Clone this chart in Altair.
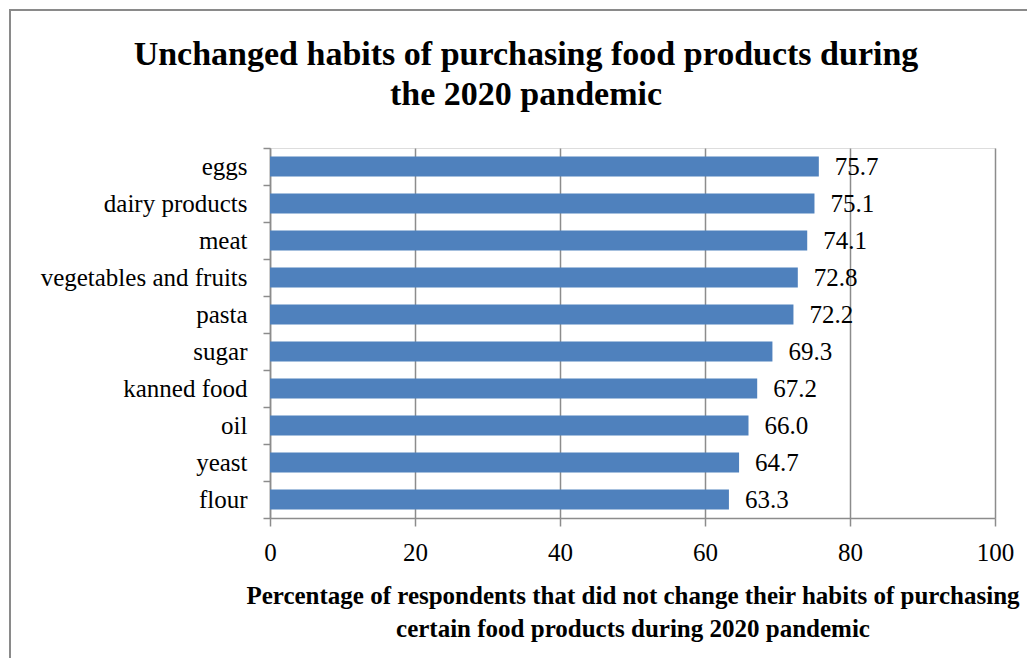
import altair as alt
import pandas as pd

categories = ["eggs", "dairy products", "meat", "vegetables and fruits", "pasta",
              "sugar", "kanned food", "oil", "yeast", "flour"]
values = [75.7, 75.1, 74.1, 72.8, 72.2, 69.3, 67.2, 66.0, 64.7, 63.3]
labels = ["75.7", "75.1", "74.1", "72.8", "72.2", "69.3", "67.2", "66.0", "64.7", "63.3"]
x_ticks = [0, 20, 40, 60, 80, 100]
title_lines = ["Unchanged habits of purchasing food products during", "the 2020 pandemic"]
x_title = ["Percentage of respondents that did not change their habits of purchasing",
           "certain food products during 2020 pandemic"]

df = pd.DataFrame({"cat": categories, "val": values, "lab": labels})
one = pd.DataFrame({"k": [0]})

FONT = "Liberation Serif"
GRAY = "#8c8c8c"

base = alt.Chart(df)

y_enc = alt.Y("cat:N", sort=categories,
              scale=alt.Scale(paddingInner=0, paddingOuter=0),
              axis=alt.Axis(title=None, labelFont=FONT, labelFontSize=25, labelColor="black",
                            labelPadding=16, labelLimit=400, tickSize=7, tickColor=GRAY, tickWidth=1.5,
                            domainColor=GRAY, domainWidth=1.5, tickBand="extent", grid=False))

x_enc = alt.X("val:Q", scale=alt.Scale(domain=[0, 100], nice=False),
              axis=alt.Axis(values=x_ticks, grid=True, gridColor=GRAY, gridWidth=1.5,
                            domainColor=GRAY, domainWidth=1.5, tickColor=GRAY, tickWidth=1.5,
                            tickSize=8, labelFont=FONT, labelFontSize=25, labelColor="black",
                            labelPadding=14, labelFlush=False,
                            title=x_title,
                            titleFont=FONT, titleFontSize=25, titleFontWeight="bold",
                            titleColor="black", titlePadding=18, titleLineHeight=33))

bars = base.mark_bar(color="#4F81BD", height=alt.RelativeBandSize(0.54)).encode(x=x_enc, y=y_enc)

text = base.mark_text(align="left", baseline="middle", dx=16, font=FONT, fontSize=25,
                      color="black").encode(x="val:Q", y=alt.Y("cat:N", sort=categories), text="lab:N")

frame = alt.Chart(one).mark_rect(fill=None, stroke="#8a8a8a", strokeWidth=2).encode(
    x=alt.value(-260), x2=alt.value(800), y=alt.value(-138), y2=alt.value(560))

title = alt.Chart(one).mark_text(text=title_lines, font=FONT, fontSize=34, fontWeight="bold",
                                 color="black", align="center", baseline="top", lineHeight=40).encode(
    x=alt.value(256), y=alt.value(-110))

chart = alt.layer(frame, bars, text, title).properties(
    width=725, height=370,
    autosize=alt.AutoSizeParams(type="none"),
    padding={"left": 262, "top": 140, "right": 32, "bottom": 140},
).configure_view(stroke=None).configure(background="white")

chart.save("out.html", embed_options={"renderer": "svg", "actions": False})
